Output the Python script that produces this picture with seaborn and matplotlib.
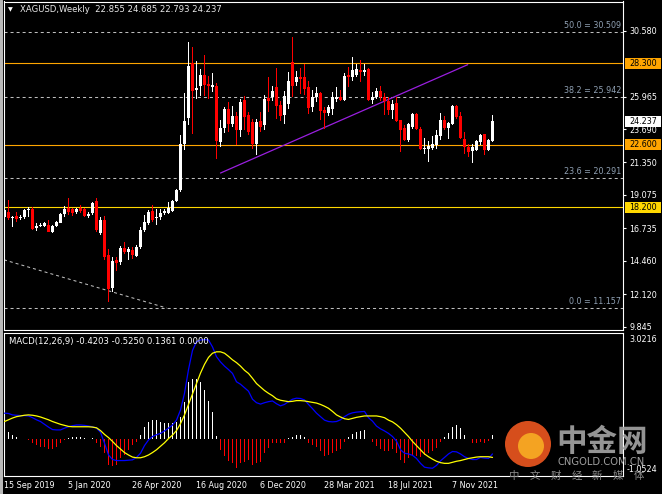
import numpy as np
import matplotlib.pyplot as plt
import seaborn as sns
from matplotlib.patches import Circle, Rectangle
from matplotlib.transforms import IdentityTransform

# XAGUSD weekly candles, week of 15 Sep 2019 .. week of 16 Jan 2022
opens = [17.54, 17.90, 17.43, 17.59, 17.45, 17.50, 18.00, 18.06, 16.73, 16.93,
         16.90, 16.96, 16.50, 16.89, 17.13, 17.73, 18.13, 18.06, 17.90, 18.13,
         18.06, 17.60, 17.78, 18.64, 16.38, 17.35, 14.90, 12.54, 14.52, 14.40,
         15.33, 15.10, 15.22, 14.80, 15.45, 16.60, 17.08, 17.96, 17.45, 17.54,
         17.78, 17.82, 17.96, 18.66, 19.40, 22.66, 24.48, 28.32, 26.40, 26.69,
         27.50, 26.85, 26.62, 26.74, 22.78, 23.75, 25.06, 24.06, 24.57, 23.59,
         25.73, 24.64, 24.17, 22.66, 24.24, 23.94, 25.85, 25.92, 26.62, 25.34,
         24.64, 25.41, 28.37, 26.97, 27.37, 27.37, 26.62, 25.22, 25.92, 26.20,
         25.04, 24.80, 25.10, 25.80, 25.92, 25.73, 27.50, 27.32, 27.50, 27.83,
         27.67, 27.90, 25.73, 25.97, 26.34, 25.97, 25.64, 25.03, 25.50, 24.29,
         23.78, 22.89, 23.82, 24.71, 23.71, 22.26, 22.26, 22.38, 22.54, 23.17,
         24.29, 23.78, 24.01, 25.27, 24.57, 23.01, 22.43, 22.15, 22.24, 22.77,
         23.31, 22.24, 22.855]
highs = [18.13, 18.71, 17.60, 17.89, 17.70, 18.10, 18.20, 18.20, 17.08, 17.10,
         17.15, 17.31, 16.95, 17.28, 17.80, 18.29, 18.83, 18.15, 18.13, 18.36,
         18.15, 17.85, 18.55, 18.89, 17.50, 17.60, 15.30, 14.70, 14.70, 15.50,
         15.80, 15.45, 15.45, 15.60, 16.85, 17.66, 18.00, 18.36, 18.06, 18.06,
         18.10, 18.59, 18.75, 19.50, 23.24, 26.20, 29.81, 29.42, 28.48, 27.90,
         28.90, 27.44, 27.60, 26.90, 24.34, 25.20, 25.57, 25.27, 24.90, 25.80,
         26.04, 24.87, 24.40, 24.40, 24.87, 26.11, 27.37, 26.74, 27.95, 25.64,
         26.39, 27.67, 30.11, 27.78, 27.95, 28.25, 27.04, 26.43, 26.62, 26.30,
         25.22, 25.40, 26.27, 26.62, 26.43, 27.60, 28.02, 28.71, 28.25, 28.53,
         28.25, 27.97, 26.27, 26.57, 26.73, 26.20, 25.97, 25.73, 25.92, 24.35,
         23.94, 24.10, 24.80, 24.80, 23.85, 23.08, 22.84, 23.17, 23.59, 24.80,
         24.57, 24.17, 25.34, 25.34, 24.87, 23.47, 22.61, 22.66, 22.94, 23.36,
         23.36, 23.01, 24.685]
lows = [17.43, 17.30, 16.85, 17.20, 17.30, 17.40, 17.50, 16.60, 16.57, 16.80,
        16.80, 16.45, 16.40, 16.85, 17.10, 17.50, 17.70, 17.59, 17.75, 17.80,
        17.50, 17.45, 17.70, 16.45, 16.30, 14.50, 11.60, 12.30, 13.77, 14.20,
        14.95, 14.52, 14.57, 14.70, 15.30, 16.50, 16.95, 17.20, 16.96, 17.31,
        17.70, 17.75, 17.90, 18.60, 19.30, 22.20, 23.94, 23.31, 25.80, 26.04,
        26.04, 25.80, 26.27, 21.61, 22.43, 23.40, 23.48, 23.83, 22.54, 23.13,
        23.59, 23.24, 22.31, 21.84, 23.48, 23.59, 24.87, 25.69, 24.41, 24.24,
        24.06, 25.10, 25.92, 26.74, 26.15, 26.11, 24.76, 24.87, 25.57, 24.29,
        23.71, 24.60, 24.64, 25.57, 25.69, 25.69, 26.62, 27.08, 27.32, 26.97,
        27.43, 25.69, 25.45, 25.80, 25.69, 24.64, 24.64, 24.41, 24.17, 22.08,
        22.84, 22.80, 23.70, 23.60, 22.20, 21.91, 21.38, 22.24, 22.26, 22.89,
        23.59, 23.01, 23.94, 24.41, 23.01, 21.96, 21.73, 21.31, 22.15, 22.54,
        21.84, 22.15, 22.793]
closes = [18.01, 17.43, 17.54, 17.36, 17.55, 18.01, 18.06, 16.66, 16.89, 16.98,
          17.08, 16.50, 16.89, 17.20, 17.73, 18.06, 17.90, 17.78, 18.06, 17.96,
          17.59, 17.72, 18.48, 16.61, 17.31, 14.75, 12.50, 14.45, 14.28, 15.33,
          15.10, 15.26, 14.87, 15.45, 16.61, 17.20, 17.90, 17.31, 17.55, 17.78,
          17.96, 18.13, 18.66, 19.40, 22.66, 24.24, 28.13, 26.39, 26.60, 27.50,
          26.80, 26.71, 26.80, 22.82, 23.75, 25.10, 24.06, 24.57, 23.59, 25.57,
          24.52, 23.48, 22.66, 24.17, 23.82, 25.80, 25.69, 26.34, 25.27, 24.57,
          26.04, 27.04, 26.74, 27.32, 27.20, 26.50, 25.18, 25.92, 26.20, 24.94,
          24.80, 25.22, 25.92, 25.92, 25.73, 27.43, 27.32, 27.83, 27.90, 27.67,
          27.83, 25.73, 25.97, 26.34, 25.92, 25.64, 25.03, 25.41, 24.24, 23.59,
          22.89, 24.01, 24.71, 23.71, 22.26, 22.36, 22.47, 22.61, 23.24, 24.29,
          23.78, 24.10, 25.27, 24.52, 23.08, 22.43, 22.08, 22.43, 22.84, 23.24,
          22.24, 22.89, 24.237]

# MACD(12,26,9) panel, read per bar
macd_line = [0.75, 0.74, 0.70, 0.69, 0.68, 0.68, 0.67, 0.62, 0.56, 0.51,
             0.43, 0.35, 0.28, 0.27, 0.27, 0.32, 0.36, 0.39, 0.41, 0.41,
             0.40, 0.38, 0.36, 0.32, 0.20, -0.11, -0.45, -0.58, -0.61, -0.61,
             -0.61, -0.60, -0.59, -0.52, -0.40, -0.18, -0.02, 0.08, 0.13, 0.17,
             0.24, 0.32, 0.41, 0.55, 0.84, 1.32, 2.00, 2.55, 2.80, 2.85,
             2.86, 2.85, 2.65, 2.37, 2.22, 2.10, 2.00, 1.89, 1.65, 1.58,
             1.48, 1.38, 1.15, 1.05, 1.01, 1.05, 1.08, 1.10, 1.02, 0.96,
             1.00, 1.08, 1.15, 1.18, 1.17, 1.13, 1.00, 0.88, 0.75, 0.65,
             0.55, 0.51, 0.50, 0.51, 0.56, 0.65, 0.72, 0.76, 0.78, 0.79,
             0.80, 0.62, 0.52, 0.38, 0.30, 0.24, 0.17, 0.08, -0.05, -0.30,
             -0.40, -0.42, -0.46, -0.55, -0.69, -0.80, -0.82, -0.83, -0.75, -0.62,
             -0.52, -0.42, -0.35, -0.36, -0.42, -0.50, -0.55, -0.58, -0.58, -0.52,
             -0.54, -0.55, -0.42]
signal_line = [0.51, 0.56, 0.61, 0.65, 0.67, 0.69, 0.70, 0.69, 0.67, 0.64,
               0.60, 0.56, 0.51, 0.47, 0.43, 0.40, 0.37, 0.36, 0.36, 0.36,
               0.36, 0.36, 0.35, 0.33, 0.25, 0.14, 0.05, -0.06, -0.18, -0.28,
               -0.38, -0.45, -0.51, -0.53, -0.53, -0.50, -0.45, -0.38, -0.30, -0.20,
               -0.10, 0.02, 0.12, 0.25, 0.45, 0.70, 1.00, 1.30, 1.60, 1.90,
               2.15, 2.35, 2.47, 2.51, 2.51, 2.47, 2.38, 2.28, 2.20, 2.10,
               1.98, 1.89, 1.75, 1.60, 1.50, 1.40, 1.32, 1.25, 1.16, 1.12,
               1.10, 1.08, 1.09, 1.11, 1.11, 1.10, 1.08, 1.06, 1.04, 1.00,
               0.95, 0.89, 0.80, 0.70, 0.64, 0.59, 0.57, 0.60, 0.63, 0.65,
               0.67, 0.67, 0.67, 0.67, 0.65, 0.62, 0.55, 0.50, 0.42, 0.32,
               0.20, 0.08, -0.06, -0.18, -0.30, -0.42, -0.50, -0.57, -0.63, -0.67,
               -0.69, -0.69, -0.66, -0.63, -0.61, -0.58, -0.55, -0.53, -0.51, -0.50,
               -0.50, -0.50, -0.52]
histogram = [0.32, 0.22, 0.12, 0.06, 0.01, 0.00, -0.02, -0.11, -0.16, -0.21,
             -0.23, -0.29, -0.29, -0.23, -0.11, -0.02, 0.03, 0.08, 0.08, 0.08,
             0.03, 0.00, 0.03, -0.11, -0.21, -0.40, -0.74, -0.78, -0.74, -0.54,
             -0.45, -0.31, -0.16, -0.07, 0.12, 0.34, 0.51, 0.54, 0.54, 0.51,
             0.48, 0.48, 0.48, 0.51, 0.65, 1.08, 1.65, 1.72, 1.72, 1.65,
             1.41, 1.11, 0.79, 0.10, -0.31, -0.48, -0.61, -0.69, -0.83, -0.69,
             -0.64, -0.59, -0.74, -0.67, -0.64, -0.40, -0.26, -0.10, -0.10, -0.11,
             -0.10, 0.03, 0.08, 0.12, 0.12, 0.08, -0.10, -0.16, -0.23, -0.35,
             -0.48, -0.45, -0.40, -0.35, -0.29, -0.07, 0.06, 0.15, 0.22, 0.25,
             0.27, 0.01, -0.07, -0.19, -0.29, -0.33, -0.35, -0.29, -0.40, -0.59,
             -0.67, -0.55, -0.45, -0.48, -0.50, -0.45, -0.40, -0.33, -0.26, -0.07,
             0.08, 0.19, 0.34, 0.41, 0.32, 0.12, 0.01, -0.11, -0.10, -0.07,
             -0.10, -0.04, 0.13]

date_ticks = [0, 16, 32, 48, 64, 80, 96, 112]
date_labels = ["15 Sep 2019", "5 Jan 2020", "26 Apr 2020", "16 Aug 2020",
               "6 Dec 2020", "28 Mar 2021", "18 Jul 2021", "7 Nov 2021"]
price_ticks = [30.580, 25.965, 23.690, 21.350, 19.075, 16.735, 14.460, 12.120, 9.845]
fib_levels = [30.509, 25.942, 20.291, 11.157]
fib_names = ["50.0", "38.2", "23.6", "0.0"]
sr_levels = [28.300, 22.600, 18.200]
sr_colors = ["#FFA500", "#FFA500", "#FFD700"]
trend_x = [54.0, 115.8]
trend_y = [20.61, 28.20]
fib_trend_x = [-0.125, 40.5]
fib_trend_y = [14.53, 11.157]

sns.set_style("dark", {"axes.facecolor": "black", "figure.facecolor": "black"})
plt.rcParams['font.family'] = ['DejaVu Sans']
FS = 5.8

W, H = 662, 494
PX = 14.275    # pixels per price unit on the main panel
BAR_PX = 0.25  # one pixel in bar-index units (4 px per weekly bar)
XLIM = (-0.125, 154.625)  # puts every bar centre on a pixel centre
fig = plt.figure(figsize=(W / 100, H / 100), dpi=100)
fig.patch.set_facecolor("black")
ax = fig.add_axes([4 / W, 1 - 330 / H, 619 / W, 328.5 / H])
ax2 = fig.add_axes([4 / W, 18 / H, 619 / W, 143 / H])

x = np.arange(len(closes))
o = np.array(opens)
c = np.array(closes)
bull = c >= o
cols = np.where(bull, "white", "#FF0000")

# candles: 1px wicks, 3px bodies
ax.bar(x, np.array(highs) - np.array(lows), bottom=lows, width=BAR_PX,
       color=cols, linewidth=0, zorder=3)
ax.bar(x, np.maximum(np.abs(c - o), 0.07), bottom=np.minimum(o, c), width=3 * BAR_PX,
       color=cols, linewidth=0, zorder=4)

# fibonacci levels
for lvl, name in zip(fib_levels, fib_names):
    ax.axhline(lvl, color="#BDBDBD", lw=0.75, ls=(0, (2.9, 2.9)), zorder=2)
    ax.annotate(f"{name} = {lvl:.3f}", xy=(1 - 2 / 619, lvl),
                xycoords=("axes fraction", "data"), xytext=(0, 1.2),
                textcoords="offset points", ha="right", va="bottom",
                fontsize=FS, color="#8FA0B3")
ax.plot(fib_trend_x, fib_trend_y, color="#BDBDBD", lw=0.75, ls=(0, (2.9, 2.9)), zorder=2)

# support / resistance
for lvl, col in zip(sr_levels, sr_colors):
    ax.axhline(lvl, color=col, lw=0.8, zorder=2)

# trend line
ax.plot(trend_x, trend_y, color="#9A1FE0", lw=0.9, zorder=2)

ax.set_xlim(*XLIM)
ax.set_ylim(9.614, 32.625)
ax.set_xticks([])
ax.yaxis.tick_right()
ax.set_yticks(price_ticks)
ax.set_yticklabels([f"{v:.3f}" for v in price_ticks])
ax.tick_params(axis="y", colors="white", labelsize=FS, length=2.2, width=0.8, pad=2.2)
ax.grid(False)
for s in ax.spines.values():
    s.set_color("white")
    s.set_linewidth(0.8)

# price boxes on the axis
boxes = [(28.300, "#FFA500"), (22.600, "#FFA500"), (18.200, "#FFD700"), (closes[-1], "white")]
tr = ax.get_yaxis_transform()
for val, bg in boxes:
    ax.add_patch(Rectangle((1 + 2 / 619, val - 5.5 / PX), 36 / 619, 11 / PX,
                           transform=tr, facecolor=bg, edgecolor="none",
                           clip_on=False, zorder=6))
    ax.text(1 + 6 / 619, val, f"{val:.3f}", transform=tr, ha="left", va="center",
            fontsize=FS, color="black", zorder=7, clip_on=False)

# MACD panel
hcols = np.where(np.array(histogram) >= 0, "white", "#FF0000")
ax2.bar(x, histogram, width=BAR_PX, color=hcols, linewidth=0, zorder=2)
sns.lineplot(x=x, y=macd_line, ax=ax2, color="#0000FF", lw=0.9, zorder=3)
sns.lineplot(x=x, y=signal_line, ax=ax2, color="#FFFF00", lw=0.9, zorder=3)
ax2.set_xlim(*XLIM)
ax2.set_ylim(-1.053, 3.05)
ax2.set_yticks([])
ax2.set_xticks(date_ticks)
ax2.set_xticklabels(date_labels, ha="left")
ax2.tick_params(axis="x", colors="white", labelsize=FS, length=2.2, width=0.8, pad=1.5)
ax2.grid(False)
for s in ax2.spines.values():
    s.set_color("white")
    s.set_linewidth(0.8)

# header texts
fig.text(8 / W, 1 - 9.5 / H, "\u25BC", fontsize=4.5, color="white", va="center")
fig.text(20 / W, 1 - 9.5 / H, "XAGUSD,Weekly  22.855 24.685 22.793 24.237",
         fontsize=6.1, color="#E8E8E8", va="center")
fig.text(9 / W, 1 - 341.5 / H, "MACD(12,26,9) -0.4203 -0.5250 0.1361 0.0000",
         fontsize=6.1, color="white", va="center")
fig.text(629 / W, 1 - 339.5 / H, "3.0216", fontsize=FS, color="white", va="center")
fig.text(627 / W, 1 - 469.5 / H, "-1.0524", fontsize=FS, color="white", va="center")

# left frame band
fig.patches.append(Rectangle((0, 0), 2.5, H, transform=IdentityTransform(),
                             facecolor="#B8B8B8", edgecolor="none"))

# watermark
fig.patches.append(Circle((528, H - 444), 23, transform=IdentityTransform(),
                          facecolor="#E3531E", edgecolor="none", alpha=0.95, zorder=10))
fig.patches.append(Circle((531, H - 446), 13, transform=IdentityTransform(),
                          facecolor="#F6A823", edgecolor="none", alpha=0.95, zorder=11))
fig.text(602 / W, 1 - 442 / H, "中金网", fontsize=22, fontweight="bold",
         family=["Noto Sans CJK SC"], color="#A2A2A2", alpha=0.92, ha="center", va="center")
fig.text(601 / W, 1 - 462 / H, "CNGOLD.COM.CN", fontsize=7.2, color="#A0A0A0",
         ha="center", va="center")
for i, ch in enumerate("中文财经新媒体"):
    fig.text((514 + i * 20.8) / W, 1 - 476 / H, ch, fontsize=7.5,
             family=["Noto Sans CJK SC"], color="#8C8C8C", ha="center", va="center")

fig.savefig("out.png", dpi=100, facecolor="black")
